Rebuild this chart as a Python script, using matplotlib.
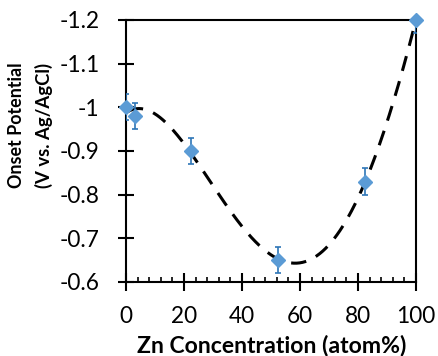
import numpy as np
import matplotlib
matplotlib.use("Agg")
import matplotlib.pyplot as plt
from matplotlib.ticker import MultipleLocator

zn = [0, 3, 22.5, 52.3, 82.4, 100]
onset = [-1.00, -0.98, -0.90, -0.65, -0.83, -1.20]
err = [0.03, 0.03, 0.03, 0.03, 0.03, 0.03]
xticks = [0, 20, 40, 60, 80, 100]
yticks = [-1.2, -1.1, -1.0, -0.9, -0.8, -0.7, -0.6]
yticklabels = ["-1.2", "-1.1", "-1", "-0.9", "-0.8", "-0.7", "-0.6"]
xlabel = 'Zn Concentration (atom%)'
ylabel1 = 'Onset Potential'
ylabel2 = '(V vs. Ag/AgCl)'

plt.rcParams['font.family'] = ['Lato', 'DejaVu Sans']

W, H = 439, 356
fig = plt.figure(figsize=(W/100, H/100), dpi=100)
renderer = fig.canvas.get_renderer()

def fit(text, target, weight='normal'):
    t = fig.text(0, 0, text, fontsize=10, fontweight=weight)
    w = t.get_window_extent(renderer).width
    t.remove()
    return 10 * target / w

ax = fig.add_axes([126/W, (H-282)/H, 290/W, 262/H])

coef = np.polyfit(zn, onset, 4)
xs = np.linspace(0.8, 100, 300)
ax.plot(xs, np.polyval(coef, xs), color='black', lw=2.2, dashes=(5, 3.5), zorder=2)

ax.errorbar(zn, onset, yerr=err, fmt='none', ecolor='#2E75B6', elinewidth=1.2,
            capsize=2.5, capthick=1.2, zorder=3)
ax.plot(zn, onset, linestyle='none', marker='D', color='#5B9BD5', markersize=6.8, zorder=4,
        clip_on=False)

ax.set_xlim(0, 100)
ax.set_ylim(-0.6, -1.2)
ax.set_xticks(xticks)
ax.set_yticks(yticks)
ax.set_yticklabels(yticklabels)
ax.xaxis.set_minor_locator(MultipleLocator(4))

for s in ax.spines.values():
    s.set_linewidth(1.5)

tsize = fit('80', 26)
ax.tick_params(axis='y', which='major', direction='inout', length=12, width=1.5, labelsize=tsize, pad=13)
ax.tick_params(axis='x', which='major', direction='inout', length=13, width=1.5, labelsize=tsize, pad=11)
ax.tick_params(axis='x', which='minor', direction='in', length=3.6, width=1.2)

fig.text(272/W, (H-352)/H, xlabel, fontsize=fit(xlabel, 270, 'bold'), fontweight='bold',
         ha='center', va='baseline')
fig.text(17/W, 1-125.5/H, ylabel1, fontsize=fit(ylabel1, 125, 'bold'), fontweight='bold',
         rotation=90, ha='center', va='center')
fig.text(44/W, 1-125/H, ylabel2, fontsize=fit(ylabel2, 125, 'bold'), fontweight='bold',
         rotation=90, ha='center', va='center')

fig.savefig('out.png', dpi=100)
